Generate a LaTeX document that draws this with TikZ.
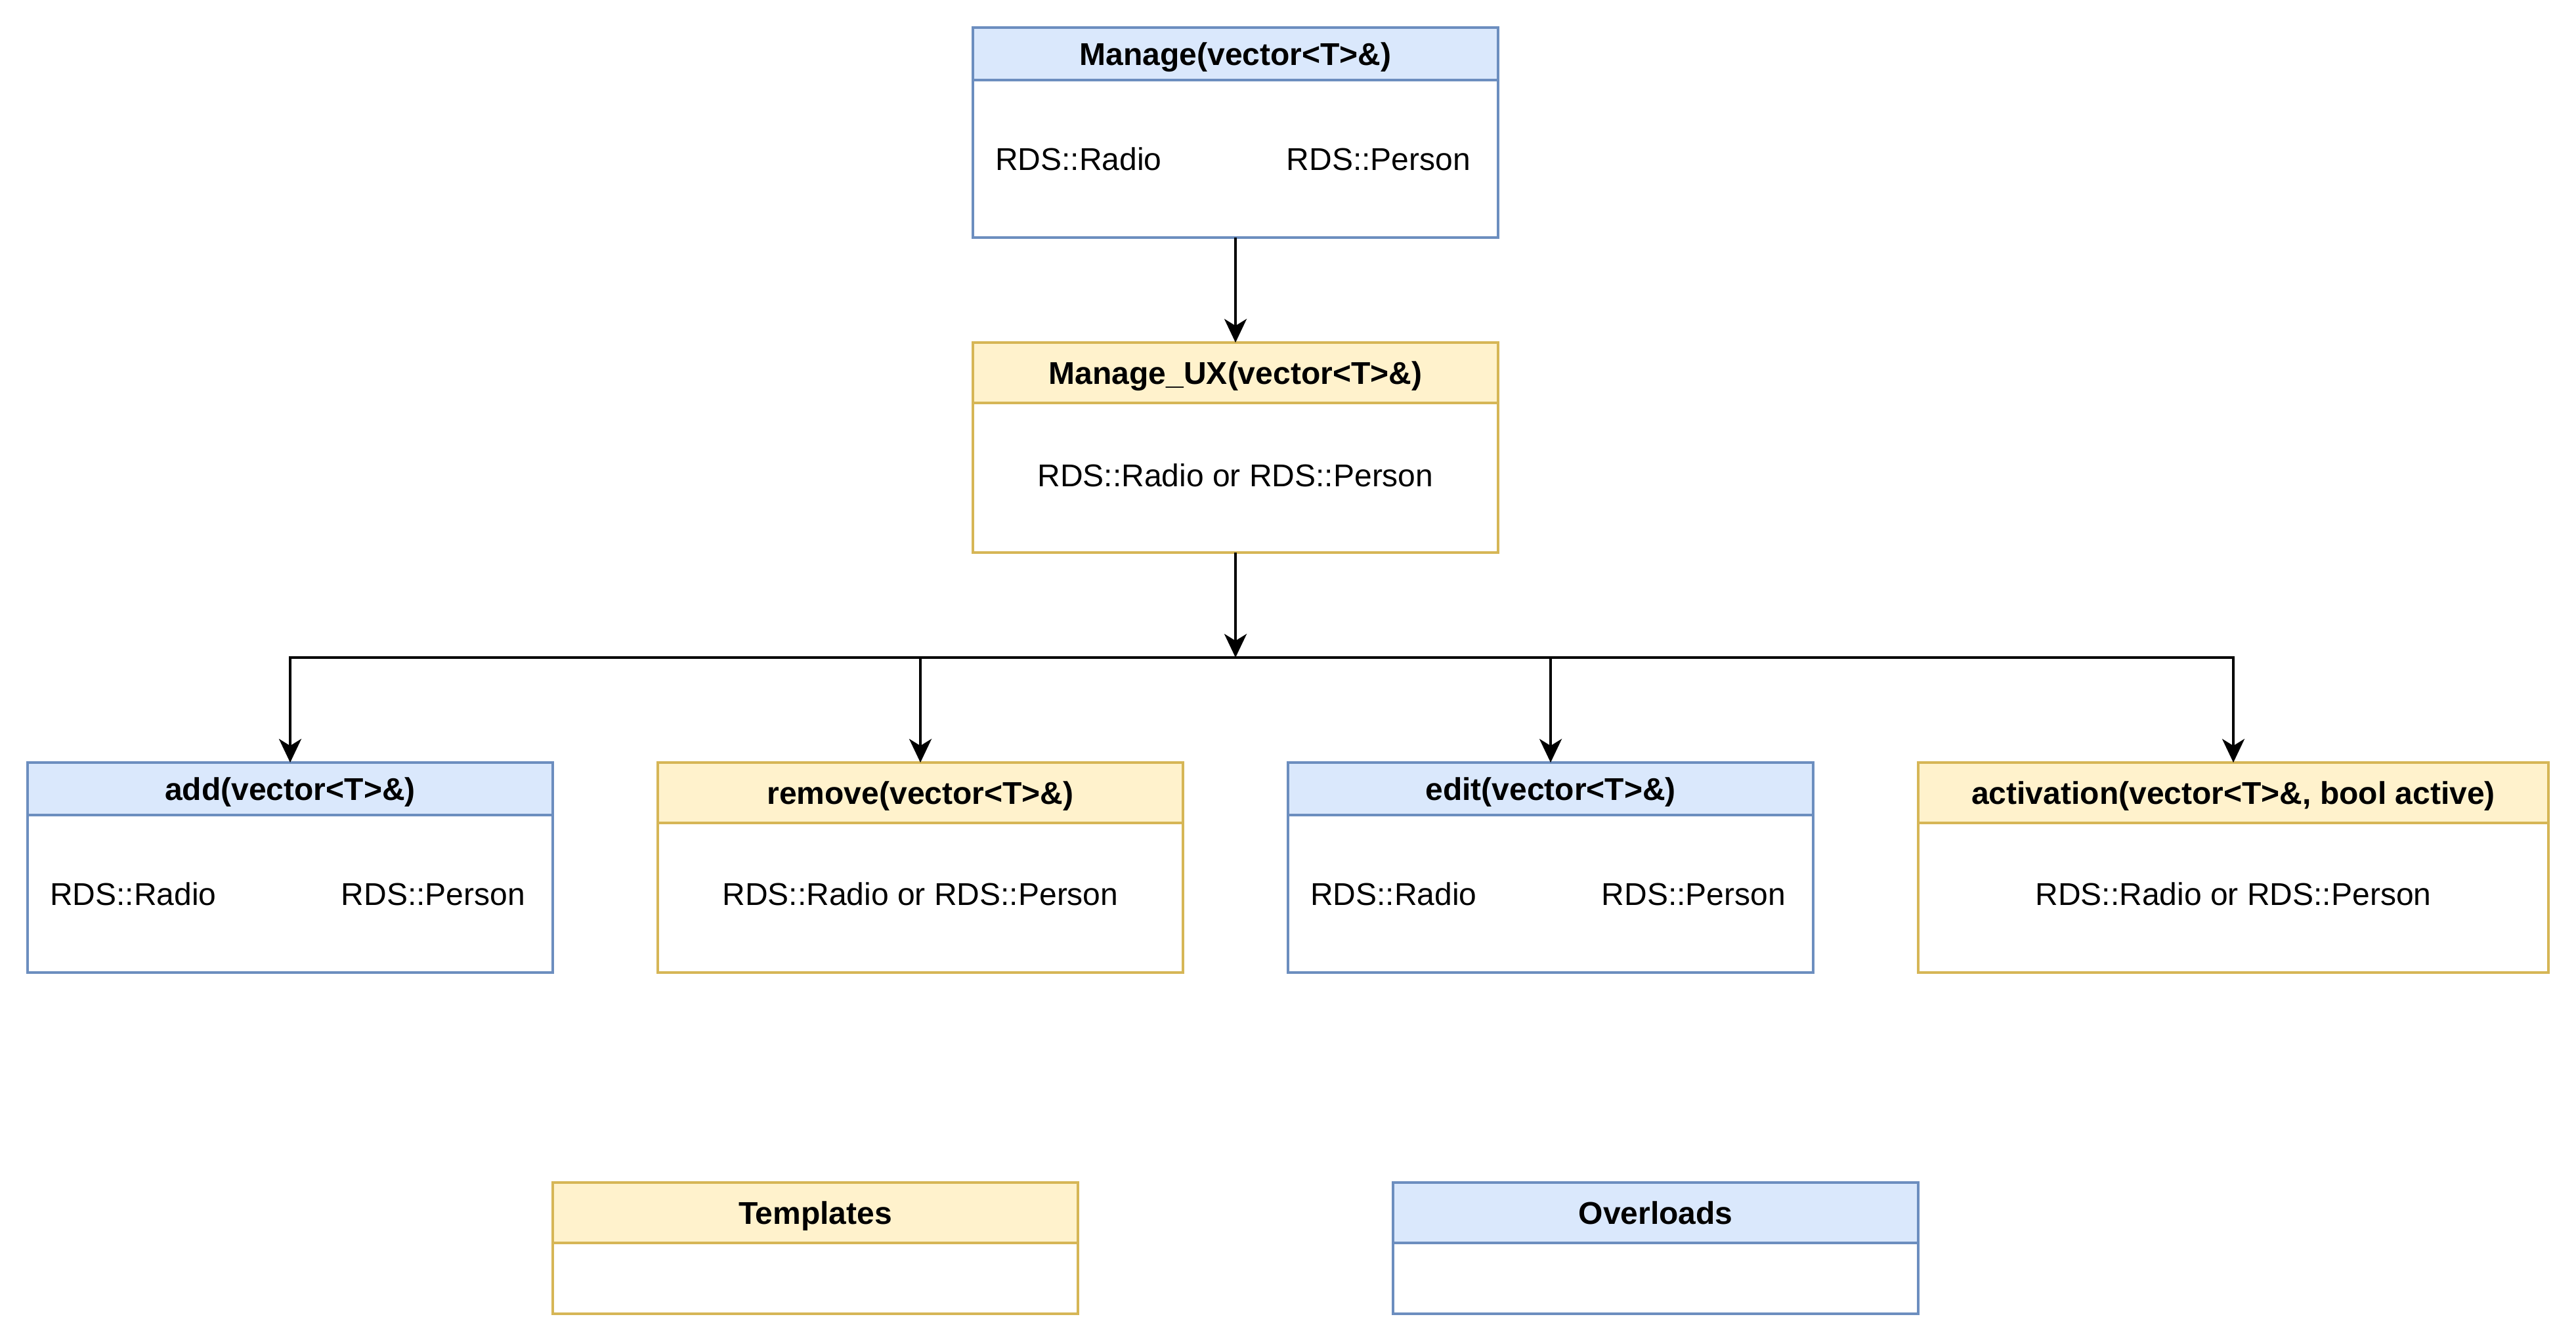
\documentclass[tikz,border=0pt]{standalone}
\usepackage{fontspec}
\setmainfont{Liberation Sans}
\usetikzlibrary{arrows.meta}
\definecolor{bfill}{HTML}{DAE8FC}
\definecolor{bline}{HTML}{6C8EBF}
\definecolor{yfill}{HTML}{FFF2CC}
\definecolor{yline}{HTML}{D6B656}
\tikzset{
  box/.style={rectangle, line width=1pt, inner sep=0pt, outer sep=0pt, anchor=north west,
    text height=8.6pt, text depth=0pt, font=\fontsize{12pt}{14pt}\selectfont},
  bhead/.style={box, draw=bline, fill=bfill, font=\fontsize{12pt}{14pt}\selectfont\bfseries},
  yhead/.style={box, draw=yline, fill=yfill, font=\fontsize{12pt}{14pt}\selectfont\bfseries},
  bbody/.style={box, draw=bline, fill=white},
  ybody/.style={box, draw=yline, fill=white},
  txt/.style={inner sep=0pt, outer sep=0pt, text height=8.6pt, text depth=0pt, font=\fontsize{12pt}{14pt}\selectfont},
  arr/.style={line width=1pt, -{Stealth[length=9pt,width=8.5pt,inset=2.6pt]}},
  ln/.style={line width=1pt}
}
\begin{document}
\begin{tikzpicture}[x=1pt,y=-1pt]
\useasboundingbox (0,0) rectangle (981,511);
% top
\node[bhead, minimum width=200pt, minimum height=20pt] (mh) at (370.5,10.5) {Manage(vector<T>\&)};
\node[bbody, minimum width=200pt, minimum height=60pt] (mb) at (mh.south west) {};
\node[txt, anchor=west] (mr) at ([xshift=8.5pt]mb.west) {RDS::Radio};
\node[txt, anchor=east] (mp) at ([xshift=-10.5pt]mb.east) {RDS::Person};
% UX
\node[yhead, minimum width=200pt, minimum height=23pt] (uh) at (370.5,130.5) {Manage\_UX(vector<T>\&)};
\node[ybody, minimum width=200pt, minimum height=57pt] (ub) at (uh.south west) {};
\node[txt] (ut) at (470.5,181) {RDS::Radio or RDS::Person};
% row
\node[bhead, minimum width=200pt, minimum height=20pt] (ah) at (10.5,290.5) {add(vector<T>\&)};
\node[bbody, minimum width=200pt, minimum height=60pt] (ab) at (ah.south west) {};
\node[txt, anchor=west] (ar) at ([xshift=8.5pt]ab.west) {RDS::Radio};
\node[txt, anchor=east] (ap) at ([xshift=-10.5pt]ab.east) {RDS::Person};
\node[yhead, minimum width=200pt, minimum height=23pt] (rh) at (250.5,290.5) {remove(vector<T>\&)};
\node[ybody, minimum width=200pt, minimum height=57pt] (rb) at (rh.south west) {};
\node[txt] (rt) at (350.5,340.5) {RDS::Radio or RDS::Person};
\node[bhead, minimum width=200pt, minimum height=20pt] (eh) at (490.5,290.5) {edit(vector<T>\&)};
\node[bbody, minimum width=200pt, minimum height=60pt] (eb) at (eh.south west) {};
\node[txt, anchor=west] (er) at ([xshift=8.5pt]eb.west) {RDS::Radio};
\node[txt, anchor=east] (ep) at ([xshift=-10.5pt]eb.east) {RDS::Person};
\node[yhead, minimum width=240pt, minimum height=23pt] (vh) at (730.5,290.5) {activation(vector<T>\&, bool active)};
\node[ybody, minimum width=240pt, minimum height=57pt] (vb) at (vh.south west) {};
\node[txt] (vt) at (850.5,340.5) {RDS::Radio or RDS::Person};
% legend
\node[yhead, minimum width=200pt, minimum height=23pt] (th) at (210.5,450.5) {Templates};
\node[ybody, minimum width=200pt, minimum height=27pt] (tb) at (th.south west) {};
\node[bhead, minimum width=200pt, minimum height=23pt] (oh) at (530.5,450.5) {Overloads};
\node[bbody, minimum width=200pt, minimum height=27pt] (ob) at (oh.south west) {};
% connectors
\coordinate (jn) at (470.5,250.5);
\draw[arr] (mb.south) -- (uh.north);
\draw[ln] (ah.north |- jn) -- (vh.north |- jn);
\draw[arr] (ub.south) -- (jn);
\draw[arr] (jn) -| (ah.north);
\draw[arr] (jn) -| (rh.north);
\draw[arr] (jn) -| (eh.north);
\draw[arr] (jn) -| (vh.north);
\end{tikzpicture}
\end{document}
